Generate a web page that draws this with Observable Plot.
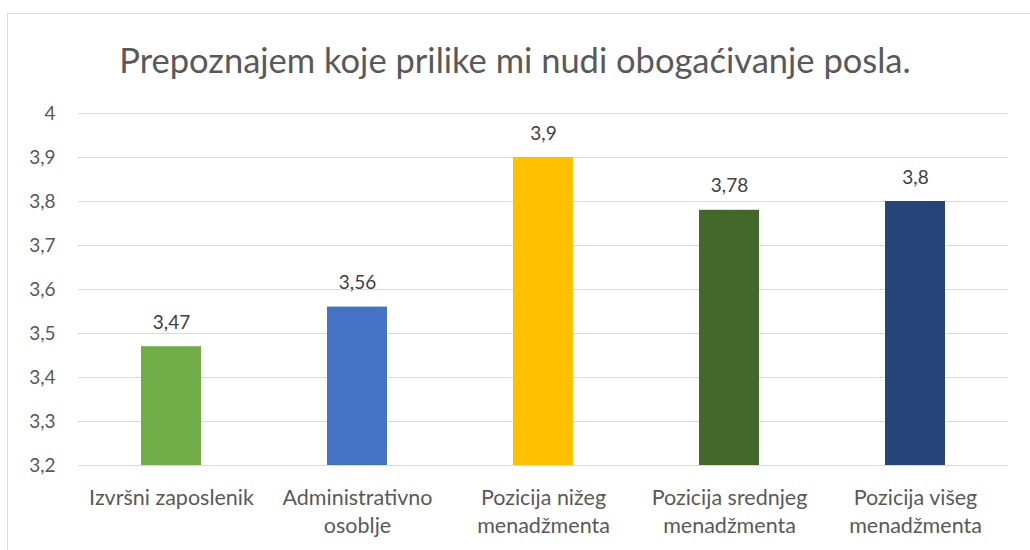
<!DOCTYPE html>
<html>
<head>
<meta charset="utf-8">
<script src="https://cdn.jsdelivr.net/npm/d3@7"></script>
<script src="https://cdn.jsdelivr.net/npm/@observablehq/plot@0.6"></script>
<style>
  html, body { margin: 0; padding: 0; background: #fff; }
  body { width: 1030px; height: 550px; overflow: hidden; position: relative; font-family: Lato, sans-serif; }
  #frame { position: absolute; left: 7px; top: 13px; width: 1040px; height: 560px; border: 1px solid #d9d9d9; box-sizing: border-box; }
  #title { position: absolute; left: 0; top: 0; width: 1030px; height: 90px; text-align: center; line-height: 1; padding-top: 43px; box-sizing: border-box; font-size: 34.5px; color: #595959; }
  #chart { position: absolute; left: 0; top: 90px; }
</style>
</head>
<body>
<div id="frame"></div>
<div id="title">Prepoznajem koje prilike mi nudi obogaćivanje posla.</div>
<div id="chart"></div>
<script>
const categories = [
  "Izvršni zaposlenik",
  "Administrativno\nosoblje",
  "Pozicija nižeg\nmenadžmenta",
  "Pozicija srednjeg\nmenadžmenta",
  "Pozicija višeg\nmenadžmenta"
];
const values = [3.47, 3.56, 3.9, 3.78, 3.8];
const colors = ["#70AD47", "#4472C4", "#FFC000", "#43682B", "#264478"];
const yTicks = [3.2, 3.3, 3.4, 3.5, 3.6, 3.7, 3.8, 3.9, 4];

const data = categories.map((c, i) => ({ cat: c, value: values[i], color: colors[i] }));
const fmt = d => String(+d.toFixed(2)).replace(".", ",");

const chart = Plot.plot({
  width: 1030,
  height: 460,
  marginLeft: 78,
  marginRight: 22,
  marginTop: 23,
  marginBottom: 85,
  style: { fontFamily: "Lato, sans-serif", background: "transparent" },
  x: { domain: categories, paddingInner: 0.68, paddingOuter: 0.34, label: null },
  y: { domain: [3.2, 4], label: null },
  marks: [
    Plot.gridY(yTicks, { stroke: "#d9d9d9", strokeOpacity: 1, strokeWidth: 1 }),
    Plot.axisY(yTicks, { tickSize: 0, tickPadding: 23, tickFormat: fmt, fontSize: 19, fill: "#595959", label: null }),
    Plot.axisX({ tickSize: 0, tickPadding: 20, fontSize: 21.5, fill: "#595959", lineHeight: 1.28, label: null }),
    Plot.barY(data, { x: "cat", y1: 3.2, y2: "value", fill: "color" }),
    Plot.text(data, { x: "cat", y: "value", text: d => fmt(d.value), dy: -24, fontSize: 19, fill: "#404040" })
  ]
});
document.getElementById("chart").appendChild(chart);
</script>
</body>
</html>
